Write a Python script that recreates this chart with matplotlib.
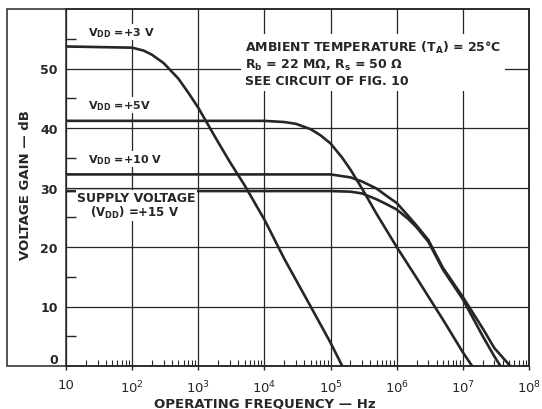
import matplotlib
matplotlib.use("Agg")
import matplotlib.pyplot as plt
from matplotlib.patches import Rectangle
from matplotlib.ticker import FixedLocator, NullFormatter

# ---- data ----
freq_3v = [10, 100, 150, 200, 300, 500, 700, 1e3, 1.5e3, 2e3, 3e3, 5e3, 1e4, 2e4, 5e4, 1e5, 1.5e5]
gain_3v = [53.7, 53.5, 53.0, 52.3, 50.9, 48.3, 46.0, 43.4, 40.0, 37.6, 34.3, 30.4, 24.6, 18.0, 10.0, 3.9, 0.0]

freq_5v = [10, 1e4, 2e4, 3e4, 5e4, 7e4, 1e5, 1.5e5, 2e5, 3e5, 5e5, 1e6, 2e6, 5e6, 1e7, 1.38e7]
gain_5v = [41.2, 41.2, 41.0, 40.7, 39.8, 38.8, 37.4, 35.0, 33.0, 29.8, 25.5, 20.0, 14.8, 7.8, 2.3, 0.0]

freq_10v = [10, 1e5, 2e5, 3e5, 5e5, 7e5, 1e6, 1.5e6, 2e6, 3e6, 5e6, 1e7, 2e7, 3e7, 5.2e7]
gain_10v = [32.2, 32.2, 31.7, 31.0, 29.8, 28.6, 27.4, 25.2, 23.6, 21.2, 16.5, 11.6, 6.3, 3.0, 0.0]

freq_15v = [10, 1e5, 2e5, 3e5, 5e5, 7e5, 1e6, 1.5e6, 2e6, 3e6, 5e6, 1e7, 2e7, 3e7, 3.7e7]
gain_15v = [29.4, 29.4, 29.3, 29.0, 28.0, 27.2, 26.3, 24.7, 23.3, 20.9, 16.2, 11.2, 5.0, 1.6, 0.0]

x_ticks = [10, 1e2, 1e3, 1e4, 1e5, 1e6, 1e7, 1e8]
x_ticklabels = ["10", r"$10^2$", r"$10^3$", r"$10^4$", r"$10^5$", r"$10^6$", r"$10^7$", r"$10^8$"]
y_ticks = [0, 10, 20, 30, 40, 50]
y_ticklabels = ["0", "10", "20", "30", "40", "50"]

# ---- style ----
plt.rcParams["font.family"] = ["DejaVu Sans"]
plt.rcParams["mathtext.fontset"] = "custom"
plt.rcParams["mathtext.rm"] = "DejaVu Sans"
plt.rcParams["mathtext.it"] = "DejaVu Sans"
plt.rcParams["mathtext.bf"] = "DejaVu Sans:bold"
plt.rcParams["mathtext.default"] = "rm"

W, H = 542, 410
fig = plt.figure(figsize=(W / 100, H / 100), dpi=100)
fig.patch.set_facecolor("white")

def fx(px):
    return px / W

def fy(py):
    return 1 - py / H

ax_l, ax_r, ax_t, ax_b = 66, 529, 10, 367
ax = fig.add_axes([fx(ax_l), fy(ax_b), fx(ax_r) - fx(ax_l), fy(ax_t) - fy(ax_b)])

ink = "#262626"
lw_curve = 1.9
for f, g in [(freq_3v, gain_3v), (freq_5v, gain_5v), (freq_10v, gain_10v), (freq_15v, gain_15v)]:
    ax.plot(f, g, color=ink, lw=lw_curve, solid_capstyle="butt", zorder=3, clip_on=True)

ax.set_xscale("log")
ax.set_xlim(10, 1e8)
ax.set_ylim(0, 60)

ax.xaxis.set_major_locator(FixedLocator(x_ticks))
ax.set_xticklabels(x_ticklabels)
minor_x = [m * 10 ** e for e in range(1, 8) for m in range(2, 10)]
ax.xaxis.set_minor_locator(FixedLocator(minor_x))
ax.xaxis.set_minor_formatter(NullFormatter())

ax.yaxis.set_major_locator(FixedLocator(y_ticks))
ax.set_yticklabels(y_ticklabels)
ax.yaxis.set_minor_locator(FixedLocator([5, 15, 25, 35, 45, 55]))

ax.grid(True, which="major", color=ink, lw=0.9)
for s in ax.spines.values():
    s.set_color(ink)
    s.set_linewidth(1.1)

ax.tick_params(axis="x", which="major", direction="out", length=3, width=1, colors=ink,
               labelsize=9.5, pad=6)
ax.tick_params(axis="x", which="minor", direction="in", length=4.5, width=0.8, colors=ink,
               bottom=True, top=False)
ax.tick_params(axis="y", which="major", direction="out", length=0, colors=ink,
               labelsize=9, pad=6)
ax.tick_params(axis="y", which="minor", direction="in", length=7, width=1, colors=ink,
               left=True, right=False)
ylabs = ax.get_yticklabels()
for lab in ylabs:
    lab.set_fontweight("bold")
ylabs[0].set_verticalalignment("bottom")

# outer frame enclosing the y tick labels
fig.add_artist(Rectangle((fx(7), fy(ax_b)), fx(ax_r) - fx(7), fy(ax_t) - fy(ax_b),
                         transform=fig.transFigure, fill=False, edgecolor=ink, lw=1.1, zorder=5))

# axis titles
fig.text(fx(26), fy(185), "VOLTAGE GAIN — dB", rotation=90, ha="center", va="center",
         fontsize=9.5, fontweight="bold", color=ink)
fig.text(fx(265), fy(404), "OPERATING FREQUENCY — Hz", ha="center", va="center",
         fontsize=9.5, fontweight="bold", color=ink)

box = dict(facecolor="white", edgecolor="none", pad=1.0)
lab_kw = dict(fontweight="bold", color=ink, ha="left", va="center", zorder=6)

fig.text(fx(88), fy(33), r"V$_{\mathbf{DD}}$ =+3 V", fontsize=8, bbox=box, **lab_kw)
fig.text(fx(88), fy(106), r"V$_{\mathbf{DD}}$ =+5V", fontsize=8, bbox=box, **lab_kw)
fig.text(fx(88), fy(160), r"V$_{\mathbf{DD}}$ =+10 V", fontsize=8, bbox=box, **lab_kw)
fig.text(fx(77), fy(199), "SUPPLY VOLTAGE", fontsize=9, bbox=box, **lab_kw)
fig.text(fx(90), fy(213), r"(V$_{\mathbf{DD}}$) =+15 V", fontsize=8.5, bbox=box, **lab_kw)

note = ("AMBIENT TEMPERATURE (T$_{\\mathbf{A}}$) = 25°C\n"
        "R$_{\\mathbf{b}}$ = 22 MΩ, R$_{\\mathbf{s}}$ = 50 Ω\n"
        "SEE CIRCUIT OF FIG. 10")
fig.text(fx(245), fy(64), note, fontsize=9, fontweight="bold", color=ink, ha="left",
         va="center", linespacing=1.2,
         bbox=dict(facecolor="white", edgecolor="none", pad=3.0), zorder=6)

fig.savefig("out.png", dpi=100, facecolor="white")
